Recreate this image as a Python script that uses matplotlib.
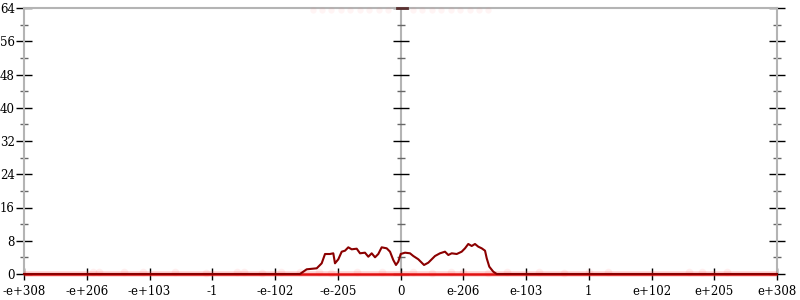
import matplotlib
matplotlib.use("Agg")
import matplotlib.pyplot as plt
from matplotlib.ticker import MultipleLocator

# ---- data ----
tick_positions = [-6, -5, -4, -3, -2, -1, 0, 1, 2, 3, 4, 5, 6]
tick_labels = ["-e+308", "-e+206", "-e+103", "-1", "-e-102", "-e-205", "0",
               "e-206", "e-103", "1", "e+102", "e+205", "e+308"]
y_ticks = [0, 8, 16, 24, 32, 40, 48, 56, 64]

line_x = [-6.0, -1.602, -1.495, -1.335, -1.256, -1.203, -1.124, -1.071, -1.044,
          -0.991, -0.937, -0.884, -0.832, -0.778, -0.698, -0.645, -0.566, -0.513,
          -0.459, -0.406, -0.354, -0.300, -0.220, -0.167, -0.115, -0.072, -0.035,
          0.003, 0.072, 0.151, 0.204, 0.284, 0.375, 0.443, 0.550, 0.629, 0.709,
          0.762, 0.816, 0.896, 0.975, 1.028, 1.080, 1.135, 1.187, 1.240, 1.294,
          1.347, 1.374, 1.415, 1.479, 1.533, 6.0]
line_y = [0.0, 0.0, 1.13, 1.37, 2.57, 4.81, 4.81, 4.98, 2.57, 3.54, 5.37, 5.61,
          6.42, 5.94, 6.09, 4.98, 5.13, 4.16, 4.98, 4.02, 4.81, 6.42, 6.18, 5.37,
          3.37, 2.17, 2.96, 4.81, 5.13, 4.98, 4.33, 3.54, 2.17, 2.72, 4.33, 4.98,
          5.37, 4.57, 4.98, 4.81, 5.37, 6.18, 7.22, 6.74, 7.22, 6.57, 6.18, 5.61,
          3.78, 1.76, 0.55, 0.0, 0.0]

base_x = [-6.0, 6.0]
base_y = [0.0, 0.0]

# faint samples near baseline and top
low_dots_x = [-4.9, -4.8, -4.4, -4.1, -3.6, -3.1, -2.6, -2.5, -2.2, -1.9, -1.6,
              -1.3, -1.1, -0.7, -0.3, 0.2, 0.5, 0.8, 1.0, 1.4, 1.7, 2.2, 2.6,
              3.0, 3.3, 4.6, 4.8, 5.2]
low_dots_y = [0.4, 0.4, 0.4, 0.4, 0.4, 0.3, 0.4, 0.4, 0.3, 0.4, 0.4, 0.4, 0.3,
              0.4, 0.4, 0.4, 0.3, 0.4, 0.4, 0.3, 0.4, 0.4, 0.3, 0.4, 0.4, 0.4,
              0.4, 0.4]
top_dots_x = [-1.4, -1.25, -1.1, -0.95, -0.8, -0.65, -0.5, -0.35, -0.2, 0.2,
              0.35, 0.5, 0.65, 0.8, 0.95, 1.1, 1.25, 1.4]
top_dots_y = [63.6] * 18
top_seg_x = [-0.06, 0.1]
top_seg_y = [64.0, 64.0]

# ---- figure ----
plt.rcParams['font.family'] = ['DejaVu Serif']
fig = plt.figure(figsize=(8, 3), dpi=100)
ax = fig.add_axes([24 / 800, 26 / 300, 753 / 800, 266 / 300])
ax.set_xlim(-6, 6)
ax.set_ylim(0, 64)

axis_gray = '#b4b4b4'
for s in ['left', 'right', 'top']:
    ax.spines[s].set_color(axis_gray)
    ax.spines[s].set_linewidth(1.5)
ax.spines['bottom'].set_visible(False)
ax.axvline(0, color=axis_gray, lw=1.5, zorder=1)

# y ticks on left and right
ax.yaxis.set_major_locator(MultipleLocator(8))
ax.yaxis.set_minor_locator(MultipleLocator(4))
ax.tick_params(axis='y', which='major', direction='inout', length=11, width=1.0,
               color='black', left=True, right=True, labelsize=8.5, pad=1)
ax.tick_params(axis='y', which='minor', direction='inout', length=6, width=1.0,
               color='#666666', left=True, right=True)
ax.set_yticks(y_ticks)

# center axis ticks
ax.plot([0] * len(y_ticks), y_ticks, linestyle='none', marker='_',
        markersize=11, markeredgewidth=1.0, color='black', clip_on=False, zorder=2)
minor_ticks = [v + 4 for v in y_ticks[:-1]]
ax.plot([0] * len(minor_ticks), minor_ticks, linestyle='none', marker='_',
        markersize=6, markeredgewidth=1.0, color='#666666', clip_on=False, zorder=2)

# x ticks
ax.set_xticks(tick_positions)
ax.set_xticklabels(tick_labels)
ax.tick_params(axis='x', which='major', direction='inout', length=8, width=1.0,
               color='black', labelsize=8.5, pad=4)

# data
ax.scatter(low_dots_x, low_dots_y, s=30, color='#ff6666', alpha=0.1,
           linewidths=0, zorder=3, clip_on=False)
ax.scatter(top_dots_x, top_dots_y, s=20, color='#ff6666', alpha=0.07,
           linewidths=0, zorder=3, clip_on=False)
ax.plot(base_x, base_y, color='#ff4444', lw=4, alpha=0.25, solid_capstyle='butt',
        clip_on=False, zorder=4)
ax.plot(base_x, base_y, color='#e01010', lw=1.8, solid_capstyle='butt',
        clip_on=False, zorder=4)
ax.plot(line_x, line_y, color='#8b0000', lw=1.5, clip_on=False, zorder=5)
ax.plot(top_seg_x, top_seg_y, color='#5a3030', lw=2, clip_on=False, zorder=5)

fig.savefig('out.png', dpi=100)
